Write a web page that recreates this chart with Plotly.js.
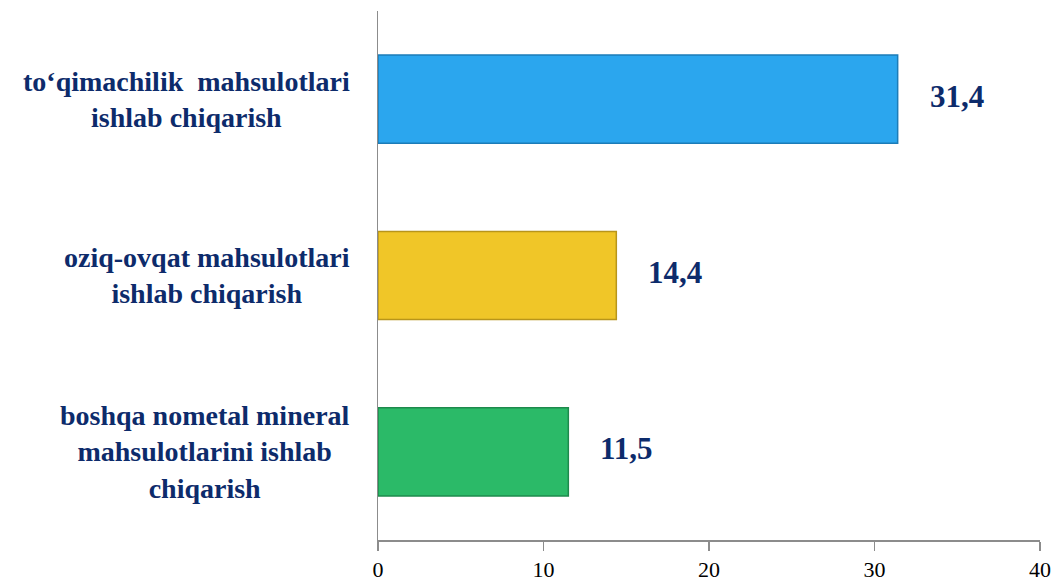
<!DOCTYPE html>
<html>
<head>
<meta charset="utf-8">
<script src="https://cdn.plot.ly/plotly-3.0.1.min.js"></script>
<style>
  html, body { margin: 0; padding: 0; background: #fff; }
  #plot { width: 1056px; height: 583px; }
</style>
</head>
<body>
<div id="plot"></div>
<script>
// categories from bottom to top
var categories = [
  "boshqa nometal mineral<br>mahsulotlarini ishlab<br>chiqarish",
  "oziq-ovqat mahsulotlari<br>ishlab chiqarish",
  "to‘qimachilik  mahsulotlari<br>ishlab chiqarish"
];
var values = [11.5, 14.4, 31.4];
var barColors = ["#2bba68", "#f0c628", "#2ba6ee"];
var edgeColors = ["#1e8a4c", "#b8951a", "#1c7cb8"];
var xTicks = [0, 10, 20, 30, 40];

var navy = "#0d2b6b";
var serif = "Liberation Serif";

var trace = {
  type: "bar",
  orientation: "h",
  y: categories,
  x: values,
  marker: {
    color: barColors,
    line: { color: edgeColors, width: 1.5 }
  },
  hoverinfo: "none"
};

var annotations = [];
// category labels, centered block ending left of the axis
categories.forEach(function (c) {
  annotations.push({
    xref: "paper", yref: "y",
    x: 0, y: c,
    xanchor: "right", yanchor: "middle",
    xshift: -26,
    align: "center",
    showarrow: false,
    text: c,
    font: { family: serif, size: 28, color: navy, weight: "bold" }
  });
});
// value labels
values.forEach(function (v, i) {
  annotations.push({
    xref: "x", yref: "y",
    x: v, y: categories[i],
    xanchor: "left", yanchor: "middle",
    xshift: 30,
    yshift: 3,
    showarrow: false,
    text: v.toFixed(1).replace(".", ","),
    font: { family: serif, size: 31, color: navy, weight: "bold" }
  });
});

var layout = {
  width: 1056,
  height: 583,
  margin: { l: 378, r: 16, t: 11, b: 43 },
  paper_bgcolor: "#ffffff",
  plot_bgcolor: "#ffffff",
  showlegend: false,
  bargap: 0.5,
  xaxis: {
    range: [0, 40],
    tickvals: xTicks,
    ticktext: xTicks.map(String),
    showgrid: false,
    zeroline: false,
    showline: true,
    linecolor: "#8c8c8c",
    linewidth: 1.5,
    ticks: "outside",
    ticklen: 9,
    tickcolor: "#8c8c8c",
    tickwidth: 1.5,
    tickfont: { family: serif, size: 22, color: "#000" },
    fixedrange: true
  },
  yaxis: {
    categoryorder: "array",
    categoryarray: categories,
    showticklabels: false,
    showgrid: false,
    zeroline: false,
    showline: true,
    linecolor: "#8c8c8c",
    linewidth: 1.5,
    ticks: "",
    fixedrange: true
  },
  annotations: annotations
};

Plotly.newPlot("plot", [trace], layout, { displayModeBar: false, staticPlot: true });
</script>
</body>
</html>
